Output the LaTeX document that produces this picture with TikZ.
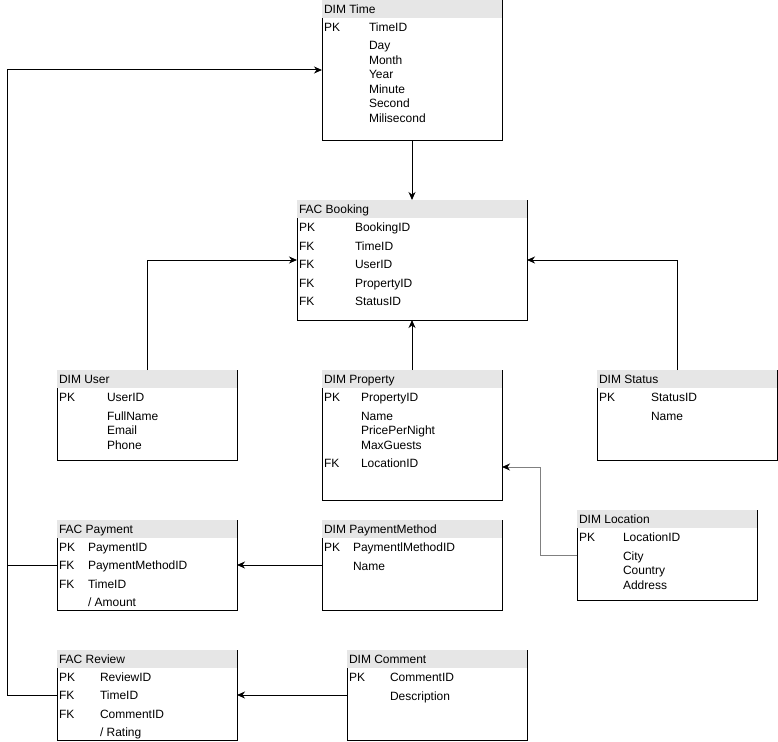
\documentclass[tikz,border=0pt]{standalone}
\usepackage{fontspec}
\setmainfont{Liberation Sans}
\usetikzlibrary{arrows.meta}
\definecolor{hdrgrey}{HTML}{E6E6E6}
\definecolor{linkgrey}{HTML}{808080}

\tikzset{
  tablebox/.style={draw=none, inner sep=0pt, outer sep=0pt, anchor=north west},
  rowtext/.style={inner sep=0pt, outer sep=0pt, anchor=base west, font=\fontsize{12}{14}\selectfont},
  border/.style={line width=1pt},
  link/.style={line width=1pt, -{Stealth[length=8pt,width=7pt,inset=2.5pt]}},
  greylink/.style={link, draw=linkgrey, -{Stealth[length=8pt,width=7pt,inset=2.5pt,fill=black,color=black]}}
}

% table: name, x, y (downward), width, height, title
\newcommand\erTable[6]{%
  \node[tablebox, minimum width=#4pt, minimum height=#5pt] (#1) at (#2,#3) {};
  \fill[hdrgrey] (#1.north west) rectangle ++(#4pt,-18pt);
  \draw[border] ([yshift=-18pt]#1.north west) -- (#1.south west) -- (#1.south east) -- (#1.north east);
  \node[rowtext] (#1-title) at ([xshift=2pt,yshift=-13.5pt]#1.north west) {#6};
}
% row text: name, x, text centre y, text
\newcommand\erText[4]{\node[rowtext] (#1) at (#2,#3+4.5) {#4};}

\begin{document}
\begin{tikzpicture}[x=1pt, y=-1pt]
\useasboundingbox (0,0) rectangle (778,741);

% ---- DIM Time
\erTable{tTime}{322}{0}{180}{140}{DIM Time}
\erText{tTimePK}{324}{27}{PK}
\erText{tTimeF1}{369}{27}{TimeID}
\erText{tTimeF2}{369}{45.5}{Day}
\erText{tTimeF3}{369}{60}{Month}
\erText{tTimeF4}{369}{74.5}{Year}
\erText{tTimeF5}{369}{89}{Minute}
\erText{tTimeF6}{369}{103}{Second}
\erText{tTimeF7}{369}{117.5}{Milisecond}

% ---- FAC Booking
\erTable{tBook}{297}{200}{230}{120}{FAC Booking}
\erText{tBookK1}{299}{227}{PK}
\erText{tBookK2}{299}{245.5}{FK}
\erText{tBookK3}{299}{264}{FK}
\erText{tBookK4}{299}{282.5}{FK}
\erText{tBookK5}{299}{301}{FK}
\erText{tBookF1}{355}{227}{BookingID}
\erText{tBookF2}{355}{245.5}{TimeID}
\erText{tBookF3}{355}{264}{UserID}
\erText{tBookF4}{355}{282.5}{PropertyID}
\erText{tBookF5}{355}{301}{StatusID}

% ---- DIM User
\erTable{tUser}{57}{370}{180}{90}{DIM User}
\erText{tUserPK}{59}{396.5}{PK}
\erText{tUserF1}{107}{396.5}{UserID}
\erText{tUserF2}{107}{415.5}{FullName}
\erText{tUserF3}{107}{430}{Email}
\erText{tUserF4}{107}{444.5}{Phone}

% ---- DIM Property
\erTable{tProp}{322}{370}{180}{130}{DIM Property}
\erText{tPropPK}{324}{396.5}{PK}
\erText{tPropF1}{361}{396.5}{PropertyID}
\erText{tPropF2}{361}{415.5}{Name}
\erText{tPropF3}{361}{430}{PricePerNight}
\erText{tPropF4}{361}{444.5}{MaxGuests}
\erText{tPropFK}{324}{462.5}{FK}
\erText{tPropF5}{361}{462.5}{LocationID}

% ---- DIM Status
\erTable{tStat}{597}{370}{180}{90}{DIM Status}
\erText{tStatPK}{599}{396.5}{PK}
\erText{tStatF1}{651}{396.5}{StatusID}
\erText{tStatF2}{651}{415.5}{Name}

% ---- DIM Location
\erTable{tLoc}{577}{510}{180}{90}{DIM Location}
\erText{tLocPK}{579}{536.5}{PK}
\erText{tLocF1}{623}{536.5}{LocationID}
\erText{tLocF2}{623}{555.5}{City}
\erText{tLocF3}{623}{570}{Country}
\erText{tLocF4}{623}{584.5}{Address}

% ---- FAC Payment
\erTable{tPay}{57}{520}{180}{90}{FAC Payment}
\erText{tPayK1}{59}{546.5}{PK}
\erText{tPayK2}{59}{565}{FK}
\erText{tPayK3}{59}{583.5}{FK}
\erText{tPayF1}{88}{546.5}{PaymentID}
\erText{tPayF2}{88}{565}{PaymentMethodID}
\erText{tPayF3}{88}{583.5}{TimeID}
\erText{tPayF4}{88}{602}{/ Amount}

% ---- DIM PaymentMethod
\erTable{tPM}{322}{520}{180}{90}{DIM PaymentMethod}
\erText{tPMPK}{324}{546.5}{PK}
\erText{tPMF1}{353}{546.5}{PaymentlMethodID}
\erText{tPMF2}{353}{565.5}{Name}

% ---- FAC Review
\erTable{tRev}{57}{650}{180}{90}{FAC Review}
\erText{tRevK1}{59}{676.5}{PK}
\erText{tRevK2}{59}{695}{FK}
\erText{tRevK3}{59}{713.5}{FK}
\erText{tRevF1}{100}{676.5}{ReviewID}
\erText{tRevF2}{100}{695}{TimeID}
\erText{tRevF3}{100}{713.5}{CommentID}
\erText{tRevF4}{100}{732}{/ Rating}

% ---- DIM Comment
\erTable{tCom}{347}{650}{180}{90}{DIM Comment}
\erText{tComPK}{349}{676.5}{PK}
\erText{tComF1}{390}{676.5}{CommentID}
\erText{tComF2}{390}{695.5}{Description}

% ---- connectors
\coordinate (statOut) at (677,370);
\coordinate (locBend) at (540,555);
\coordinate (propIn) at (502,467);
\coordinate (busPay) at (7.5,565);
\coordinate (busRev) at (7.5,695);

\draw[link] (tTime.south) -- (tBook.north);
\draw[link] (tProp.north) -- (tBook.south);
\draw[link] (tUser.north) |- (tBook.west);
\draw[link] (statOut) |- (tBook.east);
\draw[greylink] (tLoc.west) -- (locBend) |- (propIn);
\draw[link] (tPM.west) -- (tPay.east);
\draw[link] (tCom.west) -- (tRev.east);
\draw[border] (tPay.west) -- (busPay);
\draw[link] (tRev.west) -- (busRev) |- (tTime.west);
\end{tikzpicture}
\end{document}
